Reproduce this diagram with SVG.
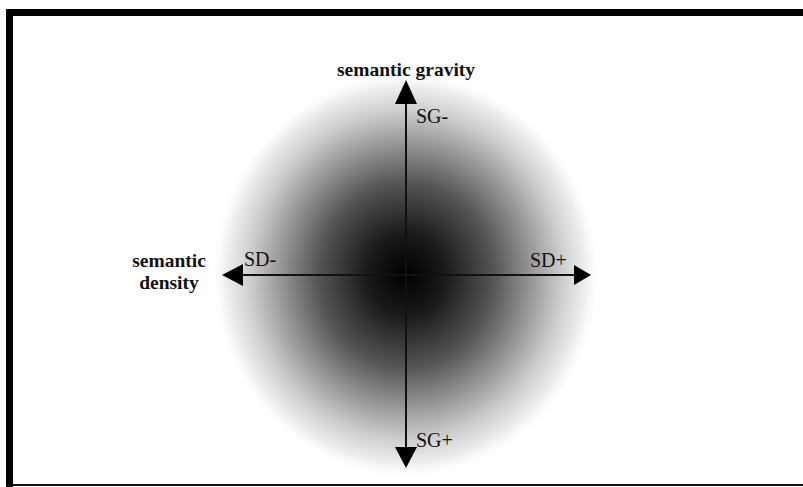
<svg xmlns="http://www.w3.org/2000/svg" width="803" height="487" viewBox="0 0 803 487">
  <style>
    .lbl { font-family: "Liberation Serif", "Times New Roman", serif; font-size: 20px; fill: #111; }
    .ttl { font-family: "Liberation Serif", "Times New Roman", serif; font-size: 19.5px; font-weight: bold; fill: #111; }
    .axis { stroke: #111; stroke-width: 2; fill: none; }
    .head { fill: #000; }
  </style>
  <defs>
    <radialGradient id="cloud" cx="0.5" cy="0.5" r="0.5">
      <stop offset="0" stop-color="#000"/>
      <stop offset="0.2" stop-color="#1a1a1a"/>
      <stop offset="0.45" stop-color="#555"/>
      <stop offset="0.65" stop-color="#999"/>
      <stop offset="0.8" stop-color="#cdcdcd"/>
      <stop offset="0.92" stop-color="#eee"/>
      <stop offset="1" stop-color="#fff" stop-opacity="0"/>
    </radialGradient>
  </defs>
  <rect x="0" y="0" width="803" height="487" fill="#fff"/>
  <g id="frame">
    <rect x="6" y="9" width="797" height="7" fill="#000"/>
    <rect x="6" y="9" width="7" height="478" fill="#000"/>
    <rect x="6" y="484" width="797" height="2" fill="#111"/>
  </g>
  <g id="cloud-shape">
    <ellipse cx="406" cy="275" rx="195" ry="205" fill="url(#cloud)"/>
  </g>
  <g id="connectors">
    <line class="axis" x1="406" y1="100" x2="406" y2="450"/>
    <line class="axis" x1="240" y1="275" x2="576" y2="275"/>
    <polygon class="head" points="406,80 395,104 417,104"/>
    <polygon class="head" points="406,468 395,447 417,447"/>
    <polygon class="head" points="222,275 243,264 243,286"/>
    <polygon class="head" points="591,275 574,265 574,285"/>
  </g>
  <g id="gravity-label">
    <text class="ttl" x="406" y="76" text-anchor="middle">semantic gravity</text>
  </g>
  <g id="density-label">
    <text class="ttl" x="169" y="267" text-anchor="middle">semantic</text>
    <text class="ttl" x="169" y="289" text-anchor="middle">density</text>
  </g>
  <g id="sg-minus"><text class="lbl" x="416" y="123">SG-</text></g>
  <g id="sg-plus"><text class="lbl" x="416" y="447">SG+</text></g>
  <g id="sd-minus"><text class="lbl" x="244" y="266">SD-</text></g>
  <g id="sd-plus"><text class="lbl" x="530" y="267">SD+</text></g>
</svg>
